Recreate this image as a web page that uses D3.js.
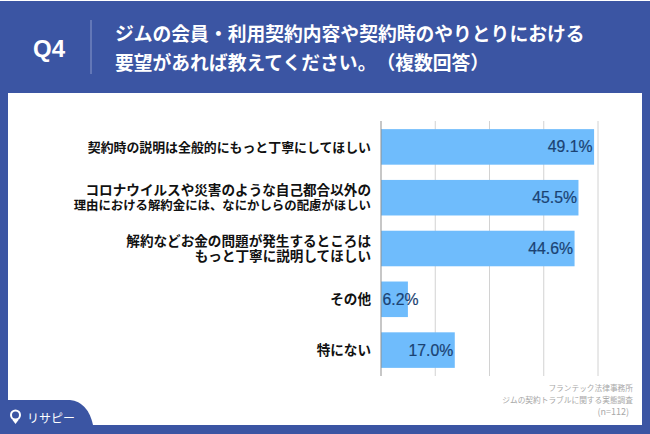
<!DOCTYPE html>
<html>
<head>
<meta charset="utf-8">
<script src="https://cdn.jsdelivr.net/npm/d3@7"></script>
<style>
  html, body { margin: 0; padding: 0; background: #3b55a3; }
  svg { display: block; }
  text { font-family: "Noto Sans CJK JP", sans-serif; text-spacing-trim: space-all; }
</style>
</head>
<body>
<script>
const labels = [
    ["契約時の説明は全般的にもっと丁寧にしてほしい"],
    ["コロナウイルスや災害のような自己都合以外の", "理由における解約金には、なにかしらの配慮がほしい"],
    ["解約などお金の問題が発生するところは", "もっと丁寧に説明してほしい"],
    ["その他"],
    ["特にない"]
];
const values = [49.1, 45.5, 44.6, 6.2, 17.0];
const ticks = [0, 12.5, 25, 37.5, 50];
const titleLines = ["ジムの会員・利用契約内容や契約時のやりとりにおける", "要望があれば教えてください。（複数回答）"];
const sourceLines = ["フランテック法律事務所", "ジムの契約トラブルに関する実態調査", "(n=112)"];

let width = 650,
    height = 434;

// the longer label lines are set a little smaller in the original
function labelSize(line) {
    if (line.length >= 24) return 12.4;
    if (line.length === 22) return 12.9;
    return 13.6;
}

let svg = d3.select("body").append("svg")
    .attr("width", width)
    .attr("height", height);

svg.append("rect")
    .attr("width", width)
    .attr("height", height)
    .attr("fill", "#3b55a3");

// white strip along the top edge of the image
svg.append("rect")
    .attr("width", width)
    .attr("height", 1)
    .attr("fill", "#ffffff");

// header
svg.append("text")
    .attr("x", 49)
    .attr("y", 57)
    .attr("text-anchor", "middle")
    .attr("fill", "#ffffff")
    .style("font-family", "'Liberation Sans', sans-serif")
    .style("font-weight", 700)
    .style("font-size", "24px")
    .text("Q4");

svg.append("line")
    .attr("x1", 91).attr("x2", 91)
    .attr("y1", 20).attr("y2", 74)
    .attr("stroke", "#8c9bcb")
    .attr("stroke-width", 1);

svg.selectAll(".title")
    .data(titleLines)
    .enter().append("text")
    .attr("class", "title")
    .attr("x", 115)
    .attr("y", function(d, i) { return 40.5 + i * 29.5; })
    .attr("fill", "#ffffff")
    .style("font-weight", 700)
    .style("font-size", "18.8px")
    .text(function(d) { return d; });

// panel
svg.append("rect")
    .attr("x", 8)
    .attr("y", 93)
    .attr("width", 634)
    .attr("height", 332)
    .attr("fill", "#ffffff");

// logo tab in the lower left corner of the panel
svg.append("path")
    .attr("d", "M8,400 H70 Q88,402 93,425 H8 Z")
    .attr("fill", "#3b55a3");

svg.append("circle")
    .attr("cx", 15.5).attr("cy", 415).attr("r", 4.5)
    .attr("fill", "#3b55a3")
    .attr("stroke", "#ffffff")
    .attr("stroke-width", 2);

svg.append("path")
    .attr("d", "M12.5,420 L15.5,424 L18.5,420 Z")
    .attr("fill", "#ffffff");

svg.append("text")
    .attr("x", 27)
    .attr("y", 423)
    .attr("fill", "#ffffff")
    .style("font-size", "12px")
    .style("font-weight", 400)
    .text("リサピー");

// chart
let x = d3.scaleLinear()
    .domain([0, 50])
    .range([381, 598]);

let y = d3.scaleBand()
    .domain(d3.range(values.length))
    .range([121, 376])
    .paddingInner(0.3)
    .paddingOuter(0.16);

svg.selectAll(".grid")
    .data(ticks.slice(1))
    .enter().append("line")
    .attr("class", "grid")
    .attr("x1", function(d) { return x(d); })
    .attr("x2", function(d) { return x(d); })
    .attr("y1", 121)
    .attr("y2", 376)
    .attr("stroke", "#d2d2d2")
    .attr("stroke-width", 1);

svg.selectAll(".bar")
    .data(values)
    .enter().append("rect")
    .attr("class", "bar")
    .attr("x", x(0))
    .attr("y", function(d, i) { return y(i); })
    .attr("width", function(d) { return x(d) - x(0); })
    .attr("height", y.bandwidth())
    .attr("fill", "#6fbcfc");

svg.append("line")
    .attr("x1", x(0)).attr("x2", x(0))
    .attr("y1", 121).attr("y2", 376)
    .attr("stroke", "#8f8f8f")
    .attr("stroke-width", 1);

svg.selectAll(".value")
    .data(values)
    .enter().append("text")
    .attr("class", "value")
    .attr("x", function(d) { return d < 10 ? x(0) + 37.5 : x(d) - 1.5; })
    .attr("y", function(d, i) { return y(i) + y.bandwidth() / 2 + 5.5; })
    .attr("text-anchor", "end")
    .attr("fill", "#1b4272")
    .attr("stroke", "#1b4272")
    .attr("stroke-width", 0.2)
    .style("font-family", "'Liberation Sans', sans-serif")
    .style("font-size", "15.8px")
    .text(function(d) { return d.toFixed(1) + "%"; });

let label = svg.selectAll(".label")
    .data(labels)
    .enter().append("text")
    .attr("class", "label")
    .attr("text-anchor", "end")
    .attr("fill", "#111111")
    .style("font-weight", 700);

label.selectAll("tspan")
    .data(function(d, i) { return d.map(function(line, j) { return {line: line, j: j, n: d.length, i: i}; }); })
    .enter().append("tspan")
    .attr("x", 371)
    .attr("y", function(d) { return y(d.i) + y.bandwidth() / 2 + 5 + (d.j - (d.n - 1) / 2) * 15.5; })
    .style("font-size", function(d) { return labelSize(d.line) + "px"; })
    .text(function(d) { return d.line; });

// source note
svg.selectAll(".source")
    .data(sourceLines)
    .enter().append("text")
    .attr("class", "source")
    .attr("x", function(d, i) { return i === 2 ? 629 : 633; })
    .attr("y", function(d, i) { return 390.5 + i * 12.3; })
    .attr("text-anchor", "end")
    .attr("fill", "#a8a8a8")
    .style("font-size", function(d, i) { return i === 2 ? "9px" : "7.7px"; })
    .text(function(d) { return d; });
</script>
</body>
</html>
